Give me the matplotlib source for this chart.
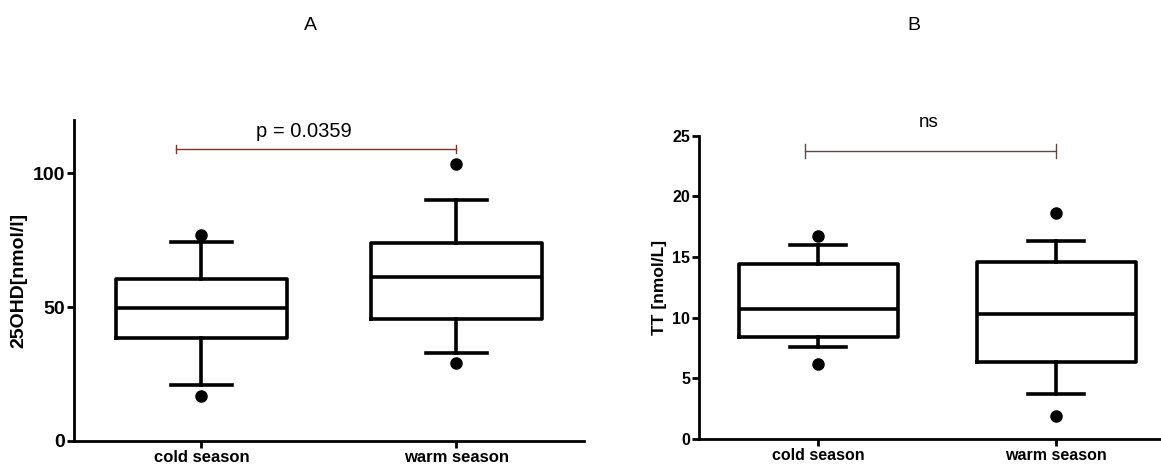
import matplotlib
matplotlib.use("Agg")
import matplotlib.pyplot as plt

plt.rcParams['font.family'] = ['Liberation Sans', 'DejaVu Sans']

categories = ["cold season", "warm season"]

# Panel A: 25OHD [nmol/l]
a_q1 = [38.3, 45.7]
a_med = [49.8, 61.3]
a_q3 = [60.4, 73.8]
a_wlo = [20.7, 32.8]
a_whi = [74.4, 90.1]
a_fliers = [[16.9, 76.8], [29.0, 103.4]]
a_yticks = [0, 50, 100]
a_sig = "p = 0.0359"

# Panel B: TT [nmol/L]
b_q1 = [8.44, 6.38]
b_med = [10.7, 10.33]
b_q3 = [14.46, 14.6]
b_wlo = [7.56, 3.73]
b_whi = [16.0, 16.33]
b_fliers = [[6.22, 16.73], [1.92, 18.63]]
b_yticks = [0, 5, 10, 15, 20, 25]
b_sig = "ns"

fig = plt.figure(figsize=(11.61, 4.65), dpi=100)

def make_stats(q1, med, q3, wlo, whi, fl):
    return [dict(q1=q1[i], med=med[i], q3=q3[i], whislo=wlo[i], whishi=whi[i],
                 fliers=fl[i], label=categories[i]) for i in range(len(q1))]

def style_ax(ax, stats, yticks, ylim, xlim, ylabel, ytick_fs, xtick_fs, ylab_fs):
    lw = 2.6
    ax.bxp(stats, positions=[1, 2], widths=0.67, capwidths=0.237,
           boxprops=dict(color='black', linewidth=lw),
           medianprops=dict(color='black', linewidth=lw),
           whiskerprops=dict(color='black', linewidth=lw),
           capprops=dict(color='black', linewidth=lw),
           flierprops=dict(marker='o', markerfacecolor='black',
                           markeredgecolor='black', markersize=8))
    ax.set_xlim(*xlim)
    ax.set_ylim(*ylim)
    ax.set_yticks(yticks)
    ax.set_xticks([1, 2])
    ax.set_xticklabels(categories, fontsize=xtick_fs, fontweight='bold')
    for lab in ax.get_yticklabels():
        lab.set_fontsize(ytick_fs)
        lab.set_fontweight('bold')
    ax.set_ylabel(ylabel, fontsize=ylab_fs, fontweight='bold', labelpad=4)
    for s in ['top', 'right']:
        ax.spines[s].set_visible(False)
    for s in ['left', 'bottom']:
        ax.spines[s].set_linewidth(2.0)
    ax.tick_params(axis='both', length=5, width=2.0, pad=1.5)

# Panel A
axA = fig.add_axes([74/1161, 24.3/465, 510/1161, 320.7/465])
style_ax(axA, make_stats(a_q1, a_med, a_q3, a_wlo, a_whi, a_fliers),
         a_yticks, (0, 120), (0.5, 2.5), "25OHD[nmol/l]", 14, 12, 14)
sig_col = '#7a3428'
axA.plot([0.899, 2.0], [109.2, 109.2], color=sig_col, lw=1.0)
axA.plot([0.899, 0.899], [107.6, 110.8], color=sig_col, lw=1.0)
axA.plot([2.0, 2.0], [107.6, 110.8], color=sig_col, lw=1.0)
axA.text(1.40, 112.3, a_sig, ha='center', va='bottom', fontsize=14.5)

# Panel B
axB = fig.add_axes([699.3/1161, 26/465, 461.7/1161, 303.3/465])
style_ax(axB, make_stats(b_q1, b_med, b_q3, b_wlo, b_whi, b_fliers),
         b_yticks, (0, 25), (0.5, 2.44), "TT [nmol/L]", 11.5, 11.5, 12.5)
sig_col_b = '#5a4a48'
axB.plot([0.946, 2.0], [23.74, 23.74], color=sig_col_b, lw=1.0)
axB.plot([0.946, 0.946], [23.2, 24.3], color=sig_col_b, lw=1.0)
axB.plot([2.0, 2.0], [23.2, 24.3], color=sig_col_b, lw=1.0)
axB.text(1.465, 25.4, b_sig, ha='center', va='bottom', fontsize=13.5)

fig.text(310/1161, 1 - 26/465, "A", ha='center', va='center', fontsize=14)
fig.text(914/1161, 1 - 26/465, "B", ha='center', va='center', fontsize=14)

fig.savefig("out.png", dpi=100)
